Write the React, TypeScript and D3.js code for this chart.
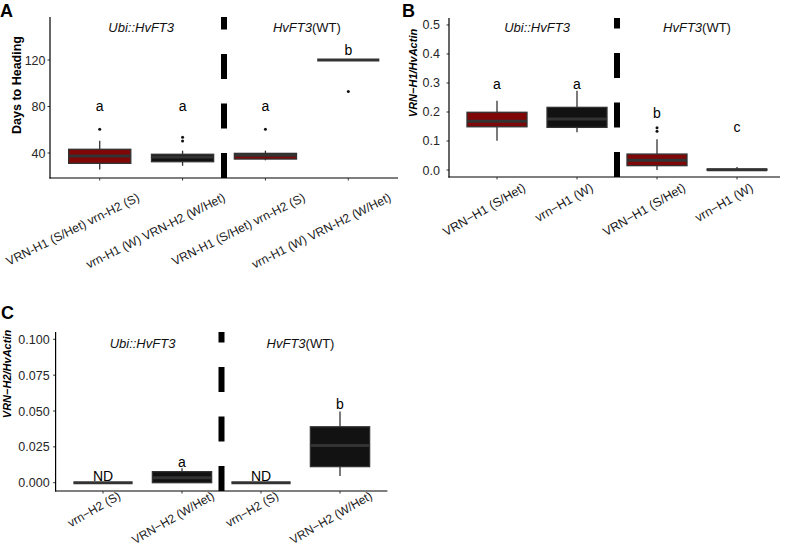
import React, { useEffect, useRef } from "react";
import * as d3 from "d3";

const W = 785;
const H = 547;
const FONT = "'Liberation Sans', Arial, Helvetica, sans-serif";
const RED = "#800707";
const BLACK = "#121212";
const EDGE = "#333333";

// ---------- Panel A : Days to heading ----------
const daysCategories = [
  "VRN-H1 (S/Het) vrn-H2 (S)",
  "vrn-H1 (W) VRN-H2 (W/Het)",
  "VRN-H1 (S/Het) vrn-H2 (S)",
  "vrn-H1 (W) VRN-H2 (W/Het)",
];
const daysAllele = ["S", "W", "S", "W"];
const daysQ1 = [31.1, 32.5, 34.8, 120];
const daysMedian = [37.4, 36.5, 38.0, 120];
const daysQ3 = [43.2, 38.9, 39.7, 120];
const daysWhiskerLow = [25.9, 29.0, 33.7, 120];
const daysWhiskerHigh = [50.6, 42.0, 42.0, 120];
const daysOutliers = [[60.5], [53.5, 50.4], [60.5], [93]];
const daysLetters = ["a", "a", "a", "b"];
const daysLetterY = [76, 76, 76, 124.5];
const daysTicks = [40, 80, 120];

// ---------- Panel B : VRN-H1 / HvActin ----------
const h1Categories = ["VRN\u2212H1 (S/Het)", "vrn\u2212H1 (W)", "VRN\u2212H1 (S/Het)", "vrn\u2212H1 (W)"];
const h1Allele = ["S", "W", "S", "W"];
const h1Q1 = [0.149, 0.147, 0.015, 0.0];
const h1Median = [0.168, 0.176, 0.034, 0.001];
const h1Q3 = [0.199, 0.216, 0.055, 0.003];
const h1WhiskerLow = [0.101, 0.13, 0.0, 0.0];
const h1WhiskerHigh = [0.239, 0.273, 0.106, 0.01];
const h1Outliers = [[], [], [0.146, 0.134], []];
const h1Letters = ["a", "a", "b", "c"];
const h1LetterY = [0.279, 0.279, 0.179, 0.131];
const h1Ticks = [0, 0.1, 0.2, 0.3, 0.4, 0.5];

// ---------- Panel C : VRN-H2 / HvActin ----------
const h2Categories = ["vrn\u2212H2 (S)", "VRN\u2212H2 (W/Het)", "vrn\u2212H2 (S)", "VRN\u2212H2 (W/Het)"];
const h2Allele = ["W", "W", "W", "W"];
const h2Q1 = [0, 0, 0, 0.0112];
const h2Median = [0, 0.0035, 0, 0.026];
const h2Q3 = [0, 0.0077, 0, 0.039];
const h2WhiskerLow = [0, 0, 0, 0.0047];
const h2WhiskerHigh = [0, 0.01, 0, 0.0496];
const h2Outliers = [[], [], [], []];
const h2Letters = ["ND", "a", "ND", "b"];
const h2LetterY = [0.001, 0.011, 0.001, 0.0514];
const h2Ticks = [0, 0.025, 0.05, 0.075, 0.1];

const groupTitles = [
  [{ t: "Ubi::HvFT3", it: true }],
  [{ t: "HvFT3", it: true }, { t: "(WT)", it: false }],
];

type Panel = {
  cats: string[]; allele: string[]; q1: number[]; med: number[]; q3: number[];
  lo: number[]; hi: number[]; out: number[][]; letters: string[]; letterY: number[];
  ticks: number[]; fmt: (v: number) => string;
  left: number; right: number; axisRight: number; top: number; bottom: number; yDomain: [number, number];
  tickSize: number; tickGap: number;
  ylab: string; ylabItalic: boolean; ylabSize: number; ylabX: number; ylabY: number;
  tag: string; tagX: number; tagY: number;
  titleY: number; titleSize: number; letterSize: number;
  xAngle: number; xDx: number; xMargin: number; xSize: number;
};

const panels: Panel[] = [
  {
    cats: daysCategories, allele: daysAllele, q1: daysQ1, med: daysMedian, q3: daysQ3,
    lo: daysWhiskerLow, hi: daysWhiskerHigh, out: daysOutliers, letters: daysLetters, letterY: daysLetterY,
    ticks: daysTicks, fmt: d3.format("d"),
    left: 50, right: 398, axisRight: 398, top: 17, bottom: 178, yDomain: [18.5, 157],
    tickSize: 12.5, tickGap: 4.5,
    ylab: "Days to Heading", ylabItalic: false, ylabSize: 12.5, ylabX: 17, ylabY: 85,
    tag: "A", tagX: 0, tagY: 17, titleY: 31.5, titleSize: 13, letterSize: 14,
    xAngle: 26.5, xDx: -27, xMargin: 13, xSize: 12.2,
  },
  {
    cats: h1Categories, allele: h1Allele, q1: h1Q1, med: h1Median, q3: h1Q3,
    lo: h1WhiskerLow, hi: h1WhiskerHigh, out: h1Outliers, letters: h1Letters, letterY: h1LetterY,
    ticks: h1Ticks, fmt: d3.format(".1f"),
    left: 449, right: 785, axisRight: 780, top: 18, bottom: 177, yDomain: [-0.0241, 0.524],
    tickSize: 12.5, tickGap: 9,
    ylab: "VRN\u2212H1/HvActin", ylabItalic: true, ylabSize: 11, ylabX: 413, ylabY: 73,
    tag: "B", tagX: 402, tagY: 17, titleY: 31.5, titleSize: 13, letterSize: 14,
    xAngle: 30, xDx: -13, xMargin: 4, xSize: 12.5,
  },
  {
    cats: h2Categories, allele: h2Allele, q1: h2Q1, med: h2Median, q3: h2Q3,
    lo: h2WhiskerLow, hi: h2WhiskerHigh, out: h2Outliers, letters: h2Letters, letterY: h2LetterY,
    ticks: h2Ticks, fmt: d3.format(".3f"),
    left: 55.6, right: 387.4, axisRight: 387.4, top: 332, bottom: 491, yDomain: [-0.00579, 0.1051],
    tickSize: 12.5, tickGap: 6,
    ylab: "VRN\u2212H2/HvActin", ylabItalic: true, ylabSize: 11, ylabX: 7.5, ylabY: 374,
    tag: "C", tagX: 1, tagY: 319, titleY: 348, titleSize: 13, letterSize: 14,
    xAngle: 30, xDx: -9, xMargin: -1.5, xSize: 12,
  },
];

function drawPanel(svg: any, p: Panel) {
  const g = svg.append("g");
  const x = d3.scaleLinear().domain([0.4, 4.6]).range([p.left, p.right]);
  const y = d3.scaleLinear().domain(p.yDomain).range([p.bottom, p.top]);
  const step = x(2) - x(1);
  const bw = step * 0.75;

  g.append("text").attr("x", p.tagX).attr("y", p.tagY).attr("font-size", 18)
    .attr("font-weight", "bold").attr("font-family", FONT).attr("fill", "#000").text(p.tag);

  g.append("text")
    .attr("transform", `translate(${p.ylabX},${p.ylabY}) rotate(-90)`)
    .attr("text-anchor", "middle").attr("dy", "0.35em")
    .attr("font-size", p.ylabSize).attr("font-weight", "bold")
    .attr("font-style", p.ylabItalic ? "italic" : "normal")
    .attr("font-family", FONT).attr("fill", "#000").text(p.ylab);

  p.ticks.forEach((t) => {
    g.append("line").attr("x1", p.left - 2.5).attr("x2", p.left).attr("y1", y(t)).attr("y2", y(t))
      .attr("stroke", "#333").attr("stroke-width", 1);
    g.append("text").attr("x", p.left - p.tickGap).attr("y", y(t)).attr("dy", "0.36em")
      .attr("text-anchor", "end").attr("font-size", p.tickSize).attr("font-family", FONT)
      .attr("fill", "#262626").text(p.fmt(t));
  });

  groupTitles.forEach((parts, gi) => {
    const cx = x(gi * 2 + 1.5);
    const tt = g.append("text").attr("x", cx).attr("y", p.titleY).attr("text-anchor", "middle")
      .attr("font-size", p.titleSize).attr("font-family", FONT).attr("fill", "#111");
    parts.forEach((pt) => tt.append("tspan").attr("font-style", pt.it ? "italic" : "normal").text(pt.t));
  });

  p.cats.forEach((_, i) => {
    const cx = x(i + 1);
    const fill = p.allele[i] === "S" ? RED : BLACK;
    g.append("line").attr("x1", cx).attr("x2", cx).attr("y1", y(p.hi[i])).attr("y2", y(p.q3[i]))
      .attr("stroke", EDGE).attr("stroke-width", 1.3);
    g.append("line").attr("x1", cx).attr("x2", cx).attr("y1", y(p.q1[i])).attr("y2", y(p.lo[i]))
      .attr("stroke", EDGE).attr("stroke-width", 1.3);
    g.append("rect").attr("x", cx - bw / 2).attr("width", bw)
      .attr("y", y(p.q3[i])).attr("height", Math.max(0, y(p.q1[i]) - y(p.q3[i])))
      .attr("fill", fill).attr("stroke", EDGE).attr("stroke-width", 1.3);
    g.append("line").attr("x1", cx - bw / 2).attr("x2", cx + bw / 2)
      .attr("y1", y(p.med[i])).attr("y2", y(p.med[i]))
      .attr("stroke", EDGE).attr("stroke-width", 3);
    p.out[i].forEach((o) => {
      g.append("circle").attr("cx", cx).attr("cy", y(o)).attr("r", 1.5).attr("fill", "#111");
    });
    g.append("text").attr("x", cx).attr("y", y(p.letterY[i])).attr("text-anchor", "middle")
      .attr("font-size", p.letterSize).attr("font-family", FONT).attr("fill", "#000").text(p.letters[i]);
  });

  g.append("line").attr("x1", x(2.5)).attr("x2", x(2.5)).attr("y1", p.bottom).attr("y2", p.top)
    .attr("stroke", "#000").attr("stroke-width", 6).attr("stroke-dasharray", "25 24.5");

  g.append("line").attr("x1", p.left).attr("x2", p.left).attr("y1", p.top).attr("y2", p.bottom + 0.6)
    .attr("stroke", "#000").attr("stroke-width", 1.2);
  g.append("line").attr("x1", p.left - 0.6).attr("x2", p.axisRight).attr("y1", p.bottom).attr("y2", p.bottom)
    .attr("stroke", "#000").attr("stroke-width", 1.2);

  const a = (p.xAngle * Math.PI) / 180;
  p.cats.forEach((c, i) => {
    const cx = x(i + 1);
    g.append("line").attr("x1", cx).attr("x2", cx).attr("y1", p.bottom).attr("y2", p.bottom + 2.5)
      .attr("stroke", "#333").attr("stroke-width", 1);
    const t = g.append("text").attr("text-anchor", "middle").attr("dy", "0.35em")
      .attr("font-size", p.xSize).attr("font-family", FONT).attr("fill", "#1a1a1a").text(c);
    const L = (t.node() as SVGTextElement).getComputedTextLength();
    const half = (L * Math.sin(a) + p.xSize * Math.cos(a)) / 2;
    const halfW = (L * Math.cos(a) + p.xSize * Math.sin(a)) / 2;
    const tx = Math.max(cx + p.xDx, halfW + 2);
    const ty = Math.min(p.bottom + p.xMargin + half, H - 1 - half);
    t.attr("transform", `translate(${tx},${ty}) rotate(${-p.xAngle})`);
  });
}

export default function App() {
  const ref = useRef<SVGSVGElement>(null);
  useEffect(() => {
    if (!ref.current) return;
    const svg = d3.select(ref.current);
    svg.selectAll("*").remove();
    svg.append("rect").attr("width", W).attr("height", H).attr("fill", "#fff");
    panels.forEach((p) => drawPanel(svg, p));
  }, []);
  return (
    <svg
      ref={ref}
      width={W}
      height={H}
      viewBox={`0 0 ${W} ${H}`}
      style={{ position: "absolute", left: 0, top: 0, display: "block" }}
    />
  );
}
